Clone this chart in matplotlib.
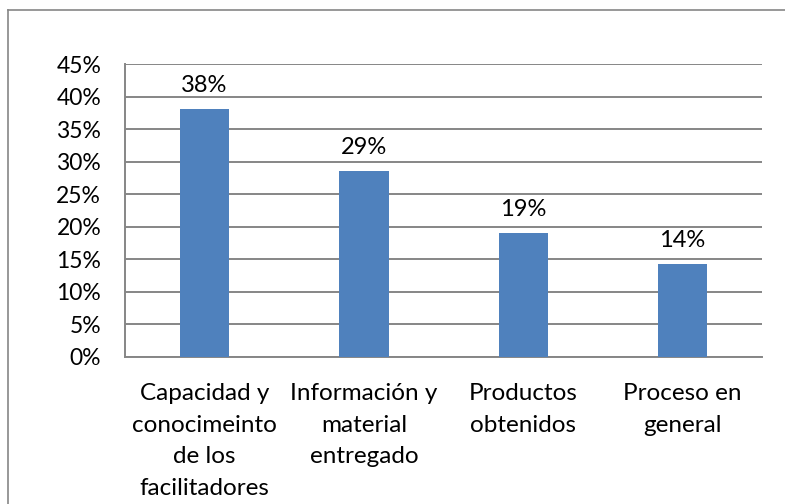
import numpy as np
from matplotlib import pyplot as plt
from matplotlib.lines import Line2D
from matplotlib.ticker import FuncFormatter, MultipleLocator

plt.rcParams['font.family'] = ['Lato', 'DejaVu Sans']

# valores (porcentaje)
categorias = ['Capacidad y\nconocimeinto\nde los\nfacilitadores',
              'Información y\nmaterial\nentregado',
              'Productos\nobtenidos',
              'Proceso en\ngeneral']
valores = [38.1, 28.6, 19.0, 14.3]
etiquetas = ['38%', '29%', '19%', '14%']

fig = plt.figure(figsize=(7.85, 5.04), dpi=100)
ax = fig.add_axes([0.159, 0.292, 0.812, 0.581])

x = np.arange(len(categorias))
bars = ax.bar(x, valores, width=0.31, color='#4F81BD', zorder=3)

for b, lab in zip(bars, etiquetas):
    ax.annotate(lab, (b.get_x() + b.get_width()/2, b.get_height()),
                xytext=(0, 9.5), textcoords='offset points',
                ha='center', va='bottom', fontsize=17)

ax.set_xlim(-0.5, len(categorias) - 0.5)
ax.set_ylim(0, 45)
ax.yaxis.set_major_locator(MultipleLocator(5))
ax.yaxis.set_major_formatter(FuncFormatter(lambda v, p: '%d%%' % v))
ax.grid(axis='y', color='#868686', linewidth=1.4, zorder=0)

ax.set_xticks(x)
ax.set_xticklabels(categorias, fontsize=17.5, linespacing=1.62, va='top')
ax.tick_params(axis='x', length=0, pad=19)
ax.tick_params(axis='y', length=0, pad=17, labelsize=16.5)

for s in ['top', 'right']:
    ax.spines[s].set_visible(False)
for s in ['left', 'bottom']:
    ax.spines[s].set_color('#868686')
    ax.spines[s].set_linewidth(1.4)

# marco exterior del grafico
fig.add_artist(Line2D([8/785, 1.0], [1 - 10/504, 1 - 10/504],
                      transform=fig.transFigure, color='#868686', linewidth=1.2))
fig.add_artist(Line2D([8/785, 8/785], [0, 1 - 10/504],
                      transform=fig.transFigure, color='#868686', linewidth=1.2))

fig.savefig('out.png', dpi=100)
